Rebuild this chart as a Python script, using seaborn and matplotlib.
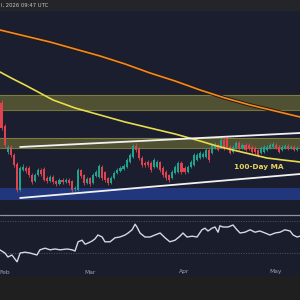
import matplotlib
matplotlib.use('Agg')
import matplotlib.pyplot as plt
import seaborn as sns
import pandas as pd

# ---------------- data ----------------
opens = [1070, 840, 580, 630, 550, 460, 200, 400, 420, 420, 350, 290, 350, 400, 410, 320, 290, 330, 290, 260,
         300, 280, 300, 290, 210, 200, 400, 350, 270, 320, 270, 340, 330, 430, 380, 320, 270, 320, 370, 390,
         410, 430, 480, 530, 640, 610, 520, 470, 480, 470, 430, 430, 480, 420, 380, 350, 320, 370, 380, 470,
         420, 380, 430, 450, 500, 520, 530, 530, 600, 570, 620, 650, 630, 700, 720, 630, 580, 620, 670, 620,
         650, 650, 630, 620, 600, 570, 580, 600, 620, 630, 650, 630, 600, 620, 640, 620, 630, 600]
closes = [820, 650, 630, 550, 450, 200, 420, 430, 390, 350, 280, 350, 400, 360, 300, 290, 330, 280, 260, 300,
          280, 300, 270, 200, 220, 400, 340, 270, 310, 260, 350, 380, 440, 320, 300, 270, 320, 370, 400, 420,
          440, 500, 550, 640, 600, 520, 450, 450, 450, 400, 500, 480, 400, 350, 320, 300, 380, 430, 470, 380,
          380, 430, 480, 550, 550, 570, 560, 600, 500, 650, 650, 600, 700, 620, 630, 570, 630, 670, 620, 650,
          600, 620, 580, 580, 550, 620, 630, 630, 650, 660, 620, 580, 630, 640, 610, 630, 600, 620]
highs = [1100, 860, 650, 650, 570, 480, 440, 460, 440, 440, 370, 370, 420, 420, 430, 340, 350, 350, 300, 320,
         320, 320, 320, 300, 240, 420, 410, 360, 330, 330, 370, 400, 460, 450, 390, 330, 340, 390, 420, 440,
         460, 520, 570, 660, 670, 630, 540, 490, 500, 490, 520, 500, 490, 440, 400, 360, 400, 450, 490, 490,
         440, 450, 500, 570, 570, 590, 580, 620, 620, 670, 680, 670, 720, 720, 740, 650, 650, 690, 690, 670,
         670, 670, 650, 640, 610, 640, 650, 650, 670, 680, 670, 650, 650, 660, 660, 650, 650, 640]
lows = [800, 620, 560, 530, 430, 180, 190, 390, 370, 330, 260, 280, 340, 340, 290, 270, 280, 260, 240, 250,
        260, 270, 250, 180, 190, 190, 320, 250, 260, 240, 260, 330, 320, 300, 280, 250, 260, 310, 360, 380,
        400, 420, 470, 520, 580, 500, 430, 430, 430, 380, 420, 420, 380, 330, 300, 280, 310, 360, 370, 360,
        360, 370, 420, 440, 490, 510, 520, 520, 480, 560, 610, 590, 620, 600, 610, 560, 570, 610, 600, 610,
        590, 600, 570, 560, 530, 560, 570, 590, 610, 620, 610, 570, 590, 610, 600, 610, 590, 590]

ma200_day = [-0.5, 7.7, 15.9, 24.1, 32.3, 40.5, 48.7, 56.9, 65.1, 73.3, 81.5, 89.7, 97.9]
ma200 = [1800, 1740, 1680, 1610, 1540, 1460, 1370, 1290, 1200, 1120, 1050, 990, 930]
ma100_day = [-0.5, 3.8, 7.7, 12.6, 16.9, 24.1, 32.3, 40.5, 48.7, 56.9, 65.1, 70.6, 75.9, 81.5, 87.0, 92.3, 97.9]
ma100 = [1380, 1310, 1250, 1170, 1100, 1020, 950, 880, 820, 760, 690, 640, 600, 560, 520, 500, 480]

upper_zone = [1000, 1150]
lower_zone = [620, 720]
support_zone = [100, 220]
trend_day = [6.1, 97.9]
upper_trend = [630, 770]
lower_trend = [120, 360]

rsi_day = [-0.5, 1.1, 2.1, 3.4, 4.4, 5.1, 6.1, 7.7, 9.3, 11.6, 12.6, 14.3, 15.9, 17.5, 19.2, 21.5, 23.1, 24.1,
           25.1, 26.4, 27.4, 28.4, 29.7, 30.6, 31.6, 33.0, 33.9, 35.6, 37.2, 38.8, 40.5, 41.5, 42.8, 43.8, 44.4,
           45.4, 47.0, 48.7, 50.3, 52.0, 53.6, 55.2, 56.9, 58.5, 59.5, 60.8, 62.5, 64.1, 65.7, 66.7, 67.7, 69.0,
           70.0, 71.0, 71.6, 72.6, 74.3, 75.9, 77.2, 78.2, 79.8, 81.5, 83.1, 84.7, 86.4, 88.0, 89.7, 91.3, 92.9,
           94.6, 95.6, 96.9, 97.9]
rsi = [33.8, 30, 25, 27.5, 22.5, 19, 30, 31, 30, 27.5, 34, 36, 34, 35, 34, 35, 34, 32.5, 44, 46, 41, 42.5, 45,
       47.5, 52.5, 50, 44, 44, 49, 50, 52.5, 55, 59, 66, 62.5, 55, 50, 50, 52.5, 55, 49, 44, 46, 51, 55, 50, 51,
       50, 59, 61, 57.5, 61, 62.5, 56, 64, 62.5, 62.5, 65, 59, 55, 56, 59, 56, 57.5, 55, 52.5, 55, 56, 59, 57.5,
       52.5, 50, 51]

month_days = [1, 29, 60, 90]
month_labels = ['Feb', 'Mar', 'Apr', 'May']
header_text = 'l, 2026 09:47 UTC'
ma_label = '100-Day MA'

# ---------------- style ----------------
sns.set_style('dark')
plt.rcParams['font.family'] = ['DejaVu Sans']

NAVY = '#1b1e2f'
RED = '#e0434f'
TEAL = '#1fa38f'

fig = plt.figure(figsize=(3, 3), dpi=100, facecolor='#1f1f20')

# header strip
fig.patches.append(plt.Rectangle((0, 1 - 10 / 300), 1, 10 / 300, transform=fig.transFigure,
                                 color='#242528', zorder=0))
fig.text(1 / 300, 1 - 5 / 300, header_text, fontsize=3.8, color='#c8c8c8', va='center', ha='left')

XMIN, XMAX = -0.5, 97.86

# main price panel
ax = fig.add_axes([0, 100 / 300, 1, 190 / 300])
ax.set_facecolor(NAVY)
ax.set_xlim(XMIN, XMAX)
ax.set_ylim(100, 2000)

for z in (upper_zone, lower_zone):
    ax.axhspan(z[0], z[1], color='#b5b03c', alpha=0.35, lw=0, zorder=1)
    ax.axhline(z[0], color='#8d8a40', lw=0.8, alpha=0.8, zorder=1)
    ax.axhline(z[1], color='#8d8a40', lw=0.8, alpha=0.8, zorder=1)
ax.axhspan(support_zone[0], support_zone[1], color='#22367c', lw=0, zorder=1)

df = pd.DataFrame({'day': list(range(len(opens))), 'open': opens, 'close': closes,
                   'high': highs, 'low': lows})
df['up'] = df['close'] >= df['open']
cols = [TEAL if u else RED for u in df['up']]
ax.vlines(df['day'], df['low'], df['high'], colors=cols, lw=0.6, zorder=3)
ax.bar(df['day'], (df['close'] - df['open']).abs().clip(lower=8),
       bottom=df[['open', 'close']].min(axis=1), width=0.7, color=cols, lw=0, zorder=4)

sns.lineplot(x=ma200_day, y=ma200, ax=ax, color='#2a1a10', lw=2.6, zorder=5)
sns.lineplot(x=ma200_day, y=ma200, ax=ax, color='#f08a24', lw=1.2, zorder=6)
sns.lineplot(x=ma100_day, y=ma100, ax=ax, color='#e8dc4a', lw=1.2, zorder=6)
sns.lineplot(x=trend_day, y=upper_trend, ax=ax, color='#f2f2f2', lw=1.3, zorder=7)
sns.lineplot(x=trend_day, y=lower_trend, ax=ax, color='#f2f2f2', lw=1.3, zorder=7)

ax.text(84.4, 430, ma_label, color='#e5d55a', fontsize=5.3, fontweight='bold',
        ha='center', va='center', zorder=8)

ax.set_xticks([]); ax.set_yticks([])
ax.set_xlabel(''); ax.set_ylabel('')
for s in ax.spines.values():
    s.set_visible(False)

# RSI panel
ax2 = fig.add_axes([0, 24 / 300, 1, 76 / 300])
ax2.set_facecolor('#1a1d2b')
ax2.set_xlim(XMIN, XMAX)
ax2.set_ylim(1.25, 96.25)
ax2.axhline(77.5, color='#8f94a2', lw=0.9)
ax2.axhline(70, color='#4f5466', lw=0.7, ls=(0, (1, 1.5)))
ax2.axhline(30, color='#4f5466', lw=0.7, ls=(0, (1, 1.5)))
sns.lineplot(x=rsi_day, y=rsi, ax=ax2, color='#d4d8e0', lw=1.0)
for d, lab in zip(month_days, month_labels):
    ax2.text(d, 6.25, lab, color='#9ea3ad', fontsize=4.3, ha='center', va='center')
ax2.set_xticks([]); ax2.set_yticks([])
ax2.set_xlabel(''); ax2.set_ylabel('')
for s in ax2.spines.values():
    s.set_visible(False)

fig.savefig('out.png', dpi=100, facecolor=fig.get_facecolor())
